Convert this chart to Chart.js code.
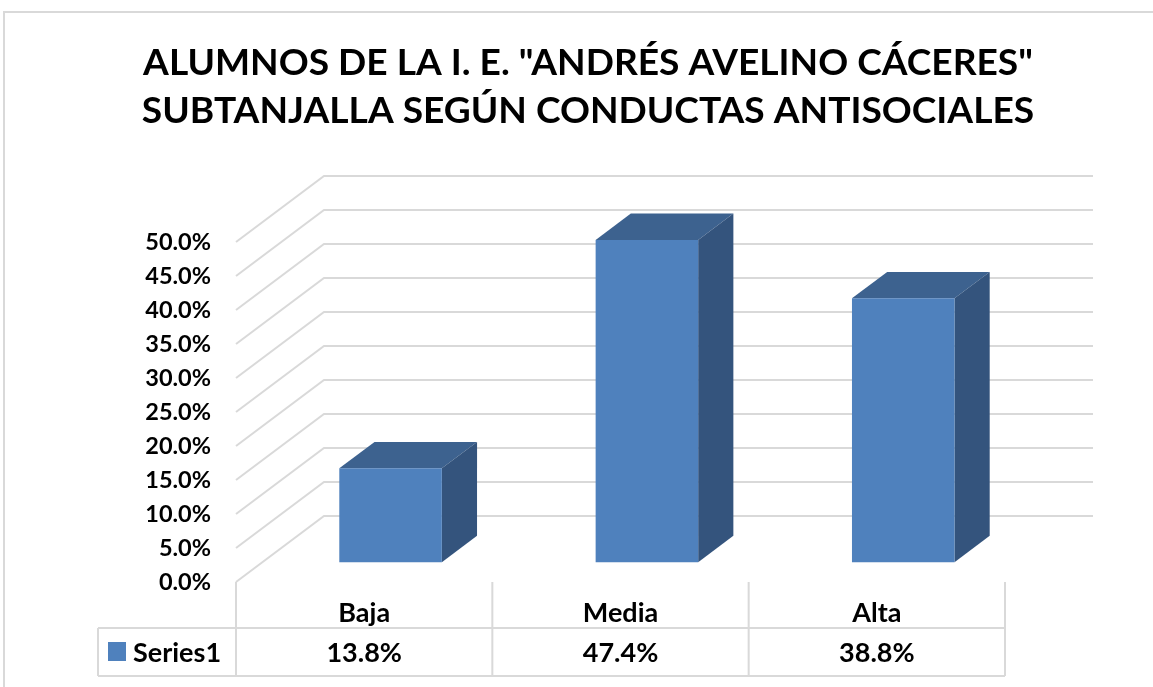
<!DOCTYPE html>
<html>
<head>
<meta charset="utf-8">
<script src="https://cdn.jsdelivr.net/npm/chart.js@4/dist/chart.umd.min.js"></script>
<style>
  html, body { margin: 0; padding: 0; background: #ffffff; }
  canvas { display: block; }
</style>
</head>
<body>
<canvas id="chart" width="1153" height="687"></canvas>
<script>
// Chart data
const categories = ['Baja', 'Media', 'Alta'];
const seriesName = 'Series1';
const seriesValues = [13.8, 47.4, 38.8];
const yMin = 0;
const yMax = 50;
const yStep = 5;
const titleLines = ['ALUMNOS DE LA I. E. "ANDRÉS AVELINO CÁCERES"', 'SUBTANJALLA SEGÚN CONDUCTAS ANTISOCIALES'];

// 3D look: offset of the back wall, and where the bars sit in that depth
const DEPTH_X = 88;
const DEPTH_Y = -66;
const BAR_FRONT = 0.3;
const BAR_DEPTH = 0.4;

const FRONT_COLOR = '#4f81bd';
const TOP_COLOR = '#3d628f';
const SIDE_COLOR = '#34547d';
const GRID_COLOR = '#d9d9d9';
const FONT = 'Lato, "Open Sans", sans-serif';

function pct(v) {
    return v.toFixed(1) + '%';
}

// white background plus the light frame round the chart
const framePlugin = {
    id: 'frame',
    beforeDraw(chart) {
        const ctx = chart.ctx;
        ctx.save();
        ctx.fillStyle = '#ffffff';
        ctx.fillRect(0, 0, chart.width, chart.height);
        ctx.strokeStyle = GRID_COLOR;
        ctx.lineWidth = 2;
        ctx.strokeRect(4, 12, chart.width + 20, chart.height + 20);
        ctx.restore();
    }
};

// title is drawn by hand: the original centres it on the whole frame,
// not on the area left over next to the axis
const titlePlugin = {
    id: 'titleText',
    afterDraw(chart) {
        const ctx = chart.ctx;
        ctx.save();
        ctx.font = 'bold 36px ' + FONT;
        // fit the first line to the width it has in the original
        const size = 36 * 890 / ctx.measureText(titleLines[0]).width;
        ctx.font = 'bold ' + size.toFixed(2) + 'px ' + FONT;
        ctx.fillStyle = '#000000';
        ctx.textAlign = 'center';
        ctx.textBaseline = 'alphabetic';
        titleLines.forEach((line, i) => {
            ctx.fillText(line, 588, 75 + i * 48);
        });
        ctx.restore();
    }
};

// side wall + back wall gridlines
const wallsPlugin = {
    id: 'walls',
    beforeDatasetsDraw(chart) {
        const ctx = chart.ctx;
        const area = chart.chartArea;
        const y = chart.scales.y;
        ctx.save();
        ctx.strokeStyle = GRID_COLOR;
        ctx.lineWidth = 2;
        y.ticks.forEach(t => {
            const py = y.getPixelForValue(t.value);
            ctx.beginPath();
            ctx.moveTo(area.left, py);
            ctx.lineTo(area.left + DEPTH_X, py + DEPTH_Y);
            ctx.lineTo(area.right + DEPTH_X, py + DEPTH_Y);
            ctx.stroke();
        });
        ctx.restore();
    }
};

// push the bars back into the box and add top and side faces
const boxPlugin = {
    id: 'box3d',
    beforeDatasetDraw(chart, args) {
        const ctx = chart.ctx;
        const dx = DEPTH_X * BAR_DEPTH;
        const dy = DEPTH_Y * BAR_DEPTH;
        ctx.save();
        ctx.translate(DEPTH_X * BAR_FRONT, DEPTH_Y * BAR_FRONT);
        args.meta.data.forEach(bar => {
            const p = bar.getProps(['x', 'y', 'base', 'width'], true);
            const l = p.x - p.width / 2;
            const r = p.x + p.width / 2;
            // top face
            ctx.fillStyle = TOP_COLOR;
            ctx.beginPath();
            ctx.moveTo(l, p.y);
            ctx.lineTo(r, p.y);
            ctx.lineTo(r + dx, p.y + dy);
            ctx.lineTo(l + dx, p.y + dy);
            ctx.closePath();
            ctx.fill();
            // side face
            ctx.fillStyle = SIDE_COLOR;
            ctx.beginPath();
            ctx.moveTo(r, p.y);
            ctx.lineTo(r + dx, p.y + dy);
            ctx.lineTo(r + dx, p.base + dy);
            ctx.lineTo(r, p.base);
            ctx.closePath();
            ctx.fill();
        });
    },
    afterDatasetDraw(chart) {
        chart.ctx.restore();
    }
};

// data table under the category labels
const tablePlugin = {
    id: 'dataTable',
    afterDraw(chart) {
        const ctx = chart.ctx;
        const area = chart.chartArea;
        const x = chart.scales.x;
        const half = (x.getPixelForValue(1) - x.getPixelForValue(0)) / 2;
        const rowTop = 628;
        const rowBottom = 676;
        const tableLeft = 98;
        const rowMid = (rowTop + rowBottom) / 2;

        ctx.save();
        ctx.strokeStyle = GRID_COLOR;
        ctx.lineWidth = 2;
        ctx.beginPath();
        for (let i = 0; i <= categories.length; i++) {
            const bx = x.getPixelForValue(i) - half;
            ctx.moveTo(bx, area.bottom);
            ctx.lineTo(bx, rowBottom);
        }
        ctx.moveTo(tableLeft, rowTop);
        ctx.lineTo(tableLeft, rowBottom);
        ctx.moveTo(tableLeft, rowTop);
        ctx.lineTo(area.right, rowTop);
        ctx.moveTo(tableLeft, rowBottom);
        ctx.lineTo(area.right, rowBottom);
        ctx.stroke();

        // legend key + series name
        ctx.fillStyle = FRONT_COLOR;
        ctx.fillRect(108, rowMid - 10, 18, 19);
        ctx.fillStyle = '#000000';
        ctx.font = 'bold 27px ' + FONT;
        ctx.textBaseline = 'middle';
        ctx.textAlign = 'left';
        ctx.fillText(seriesName, 133, rowMid + 1);

        ctx.textAlign = 'center';
        seriesValues.forEach((v, i) => {
            ctx.fillText(pct(v), x.getPixelForValue(i), rowMid + 1);
        });
        ctx.restore();
    }
};

const chart = new Chart(document.getElementById('chart'), {
    type: 'bar',
    data: {
        labels: categories,
        datasets: [{
            label: seriesName,
            data: seriesValues,
            backgroundColor: FRONT_COLOR,
            borderWidth: 0,
            barPercentage: 0.4,
            categoryPercentage: 1,
            clip: false
        }]
    },
    options: {
        responsive: false,
        animation: false,
        devicePixelRatio: 1,
        layout: {
            padding: { top: 242, left: 0, right: 148, bottom: 0 }
        },
        plugins: {
            legend: { display: false },
            tooltip: { enabled: false },
            title: { display: false }
        },
        scales: {
            x: {
                grid: { display: false, drawTicks: false },
                border: { display: false },
                ticks: {
                    color: '#000000',
                    padding: 15,
                    font: { family: FONT, size: 27, weight: 'bold' }
                },
                afterFit(scale) { scale.height = 105; }
            },
            y: {
                min: yMin,
                max: yMax,
                grid: { display: false, drawTicks: false },
                border: { display: false },
                ticks: {
                    stepSize: yStep,
                    color: '#000000',
                    padding: 25,
                    font: { family: FONT, size: 23.5, weight: 'bold' },
                    callback: v => pct(v)
                },
                afterFit(scale) { scale.width = 236; }
            }
        }
    },
    plugins: [framePlugin, titlePlugin, wallsPlugin, boxPlugin, tablePlugin]
});
</script>
</body>
</html>
